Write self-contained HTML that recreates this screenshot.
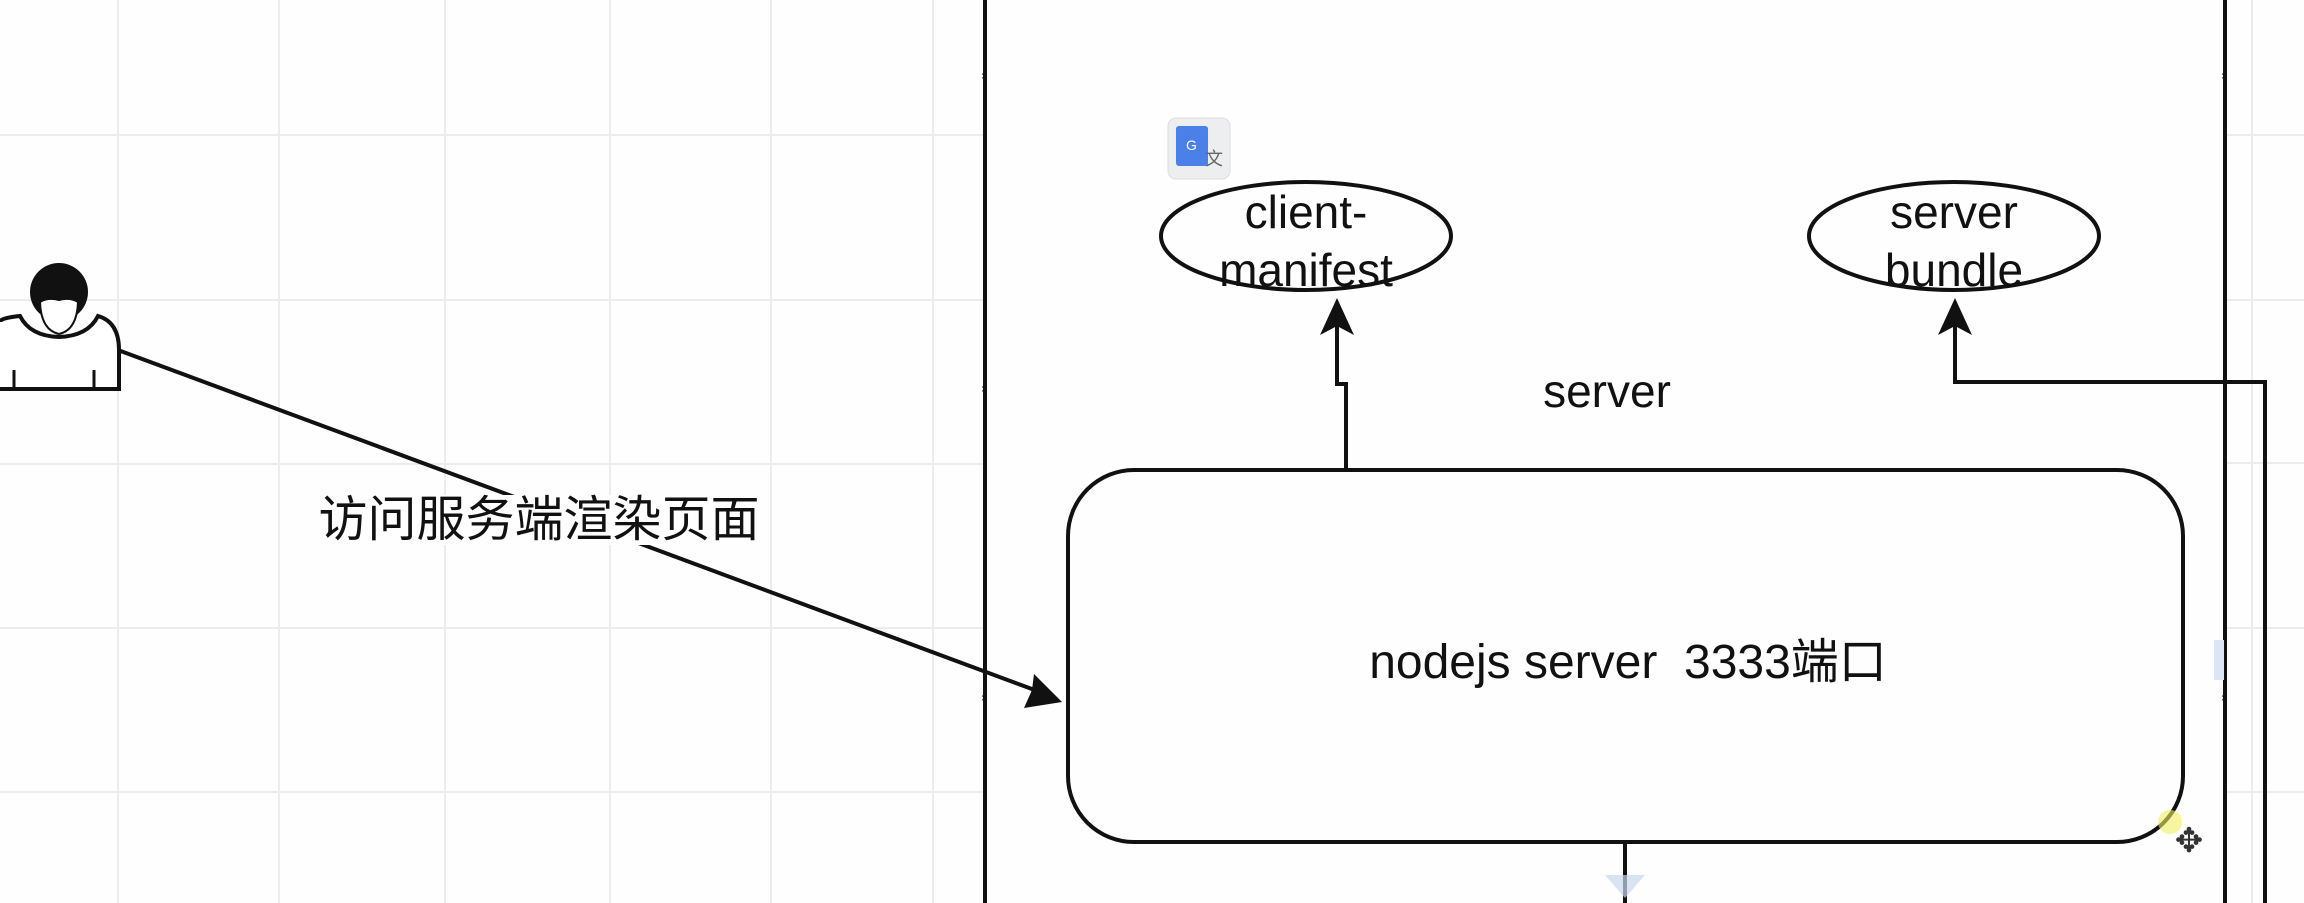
<!DOCTYPE html>
<html><head><meta charset="utf-8"><style>
html,body{margin:0;padding:0;background:#fdfefd;}
svg{display:block}
text{font-family:"Liberation Sans","Noto Sans CJK SC",sans-serif;fill:#111;}
</style></head><body>
<svg width="2304" height="903" viewBox="0 0 2304 903" xmlns="http://www.w3.org/2000/svg">
<rect width="2304" height="903" fill="#fdfefd"/>
<g stroke="#ececec" stroke-width="2">
<line x1="118" y1="0" x2="118" y2="903"/><line x1="279" y1="0" x2="279" y2="903"/>
<line x1="445" y1="0" x2="445" y2="903"/><line x1="610" y1="0" x2="610" y2="903"/>
<line x1="771" y1="0" x2="771" y2="903"/><line x1="933" y1="0" x2="933" y2="903"/>
<line x1="2252" y1="0" x2="2252" y2="903"/>
<line x1="0" y1="135" x2="985" y2="135"/><line x1="0" y1="300" x2="985" y2="300"/>
<line x1="0" y1="464" x2="985" y2="464"/><line x1="0" y1="628" x2="985" y2="628"/>
<line x1="0" y1="792" x2="985" y2="792"/>
<line x1="2225" y1="135" x2="2304" y2="135"/><line x1="2225" y1="300" x2="2304" y2="300"/>
<line x1="2225" y1="463" x2="2304" y2="463"/><line x1="2225" y1="628" x2="2304" y2="628"/>
<line x1="2225" y1="792" x2="2304" y2="792"/>
</g>
<rect x="985" y="-5" width="1240" height="920" fill="#fdfefd" stroke="#111" stroke-width="4"/>
<!-- person -->
<path d="M0,322 Q0,318 20,316 Q30,336 59,337 Q88,336 98,316 Q119,322 119,350 L119,389 L0,389" fill="#fff" stroke="#111" stroke-width="4"/>
<line x1="14" y1="370" x2="14" y2="389" stroke="#111" stroke-width="3"/>
<line x1="94" y1="370" x2="94" y2="389" stroke="#111" stroke-width="3"/>
<circle cx="59" cy="292" r="29" fill="#111"/>
<path d="M40,302 Q41,330 59,334 Q77,330 78,302 Q70,297 59,300 Q48,297 40,302Z" fill="#fff" stroke="#111" stroke-width="2"/>
<!-- arrow to server -->
<line x1="118" y1="350" x2="1040" y2="692" stroke="#111" stroke-width="4"/>
<polygon points="1062,702 1024,708 1032,690 1034,674" fill="#111"/>
<rect x="315" y="495" width="450" height="50" fill="#fdfefd"/>
<text x="539" y="536" font-size="49" text-anchor="middle">访问服务端渲染页面</text>
<!-- rounded rect -->
<rect x="1068" y="470" width="1115" height="372" rx="66" fill="#fdfefd" stroke="#111" stroke-width="4"/>
<text x="1628" y="678" font-size="48" text-anchor="middle" xml:space="preserve" style="white-space:pre">nodejs server  3333端口</text>
<text x="1607" y="407" font-size="46" text-anchor="middle">server</text>
<!-- ellipses -->
<ellipse cx="1306" cy="236" rx="145" ry="54" fill="#fdfefd" stroke="#111" stroke-width="4"/>
<text x="1306" y="228" font-size="46" text-anchor="middle">client-</text>
<text x="1306" y="286" font-size="46" text-anchor="middle">manifest</text>
<ellipse cx="1954" cy="236" rx="145" ry="54" fill="#fdfefd" stroke="#111" stroke-width="4"/>
<text x="1954" y="228" font-size="46" text-anchor="middle">server</text>
<text x="1954" y="286" font-size="46" text-anchor="middle">bundle</text>
<!-- connectors -->
<polyline points="1346,470 1346,384 1337,384 1337,320" fill="none" stroke="#111" stroke-width="4"/>
<polygon points="1337,298 1320,335 1337,326 1354,335" fill="#111"/>
<polyline points="2265,903 2265,382 1955,382 1955,320" fill="none" stroke="#111" stroke-width="4"/>
<polygon points="1955,298 1938,335 1955,326 1972,335" fill="#111"/>
<line x1="1625" y1="842" x2="1625" y2="903" stroke="#111" stroke-width="4"/>
<polygon points="1605,875 1645,875 1625,898" fill="#c8d8f0" opacity="0.7"/>
<!-- markers -->
<g fill="#6a8fd0" font-size="12">
<text x="981" y="80">×</text><text x="981" y="393">×</text><text x="981" y="702">×</text>
<text x="2221" y="80">×</text><text x="2221" y="702">×</text>
</g>
<rect x="2214" y="640" width="10" height="40" fill="#dbe5f5"/>
<!-- translate icon -->
<rect x="1168" y="118" width="62" height="61" rx="8" fill="#eceeef" stroke="#ddd"/>
<rect x="1176" y="126" width="32" height="40" rx="3" fill="#4a80e8"/>
<text x="1186" y="150" font-size="14" style="fill:#fff">G</text>
<text x="1205" y="165" font-size="18" style="fill:#666">文</text>
<!-- cursor -->
<circle cx="2170" cy="822" r="12" fill="#f0f060" opacity="0.6"/>
<text x="2189" y="852" font-size="34" text-anchor="middle" style="fill:#333">✥</text>
</svg>
</body></html>
